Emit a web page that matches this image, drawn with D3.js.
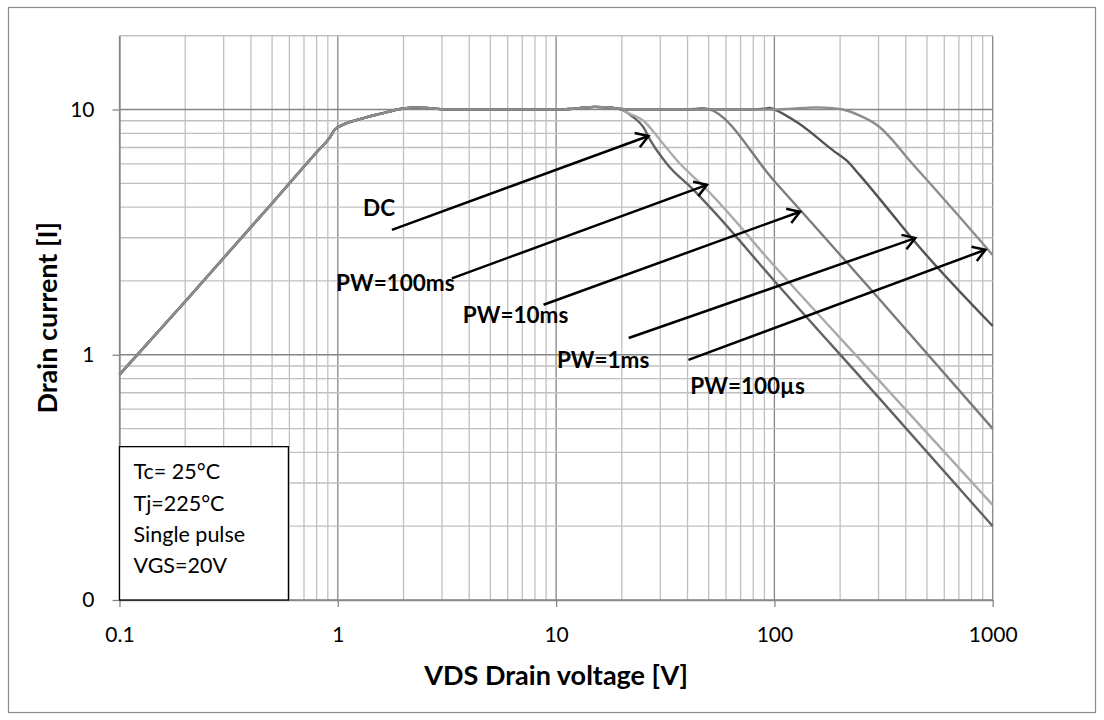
<!DOCTYPE html>
<html>
<head>
<meta charset="utf-8">
<script src="https://cdn.jsdelivr.net/npm/d3@7"></script>
<style>
  html, body { margin: 0; padding: 0; background: #fff; }
  svg { display: block; font-family: Lato, "Open Sans", sans-serif; }
</style>
</head>
<body>
<div id="chart"></div>
<script>
// [VDS (V), ID (A)]
const commonPoints = [[0.1, 0.83], [0.2, 1.65], [0.5, 4.15], [0.8, 6.7], [0.92, 7.7], [0.97, 8.3],
  [1.3, 9.2], [1.56, 9.6], [2.0, 10.1], [2.3, 10.2], [2.7, 10.1], [3.2, 10.0], [10, 10.0],
  [11.5, 10.05], [13, 10.15], [15, 10.25], [17.5, 10.2], [19.6, 10.05]];
const dcTail = [[22.6, 9.3], [25.1, 8.47], [27, 7.5], [32.2, 6.0], [42.6, 4.7], [52.6, 3.85],
  [100, 2.0], [300, 0.67], [1000, 0.2]];
const pw100msTail = [[21.8, 9.6], [25.1, 9.0], [30, 7.5], [35.8, 6.2], [44.2, 5.15], [49.1, 4.7],
  [100, 2.3], [300, 0.79], [1000, 0.244]];
const pw10msTail = [[24, 10], [40, 10], [44, 10.08], [47, 10.12], [50, 10.03], [100, 5.1],
  [300, 1.7], [1000, 0.5]];
const pw1msTail = [[24, 10], [80, 10], [90, 10.08], [95, 10.15], [100, 10.0], [130, 8.75],
  [186, 6.8], [214, 6.2], [246, 5.4], [326, 4.0], [431, 2.95], [1000, 1.31]];
const pw100usTail = [[24, 10], [100, 10], [120, 10.08], [155, 10.2], [185, 10.12], [205, 10.0],
  [246, 9.45], [304, 8.47], [350, 7.45], [403, 6.4], [533, 4.84], [760, 3.38], [1000, 2.55]];

const seriesNames = ["DC", "PW=100ms", "PW=10ms", "PW=1ms", "PW=100µs"];
const seriesColors = ["#636363", "#ababab", "#7b7b7b", "#545454", "#8d8d8d"];

// annotation arrows and labels
const arrowStarts = [[1.77, 3.23], [3.33, 2.05], [8.76, 1.6], [21.5, 1.17], [40.4, 0.953]];
const arrowEnds = [[26.5, 7.8], [49.1, 4.93], [131, 3.83], [442, 2.99], [926, 2.68]];
const labelPos = [[1.306, 3.68], [0.982, 1.82], [3.74, 1.344], [10.09, 0.881], [41.2, 0.692]];

const xTickValues = [0.1, 1, 10, 100, 1000];
const xTickLabels = ["0.1", "1", "10", "100", "1000"];
const yTickValues = [0.1, 1, 10];
const yTickLabels = ["0", "1", "10"];

const conditions = ["Tc= 25°C", "Tj=225°C", "Single pulse", "VGS=20V"];
const conditionsBox = [[0.1, 0.1], [0.594, 0.422]];

const width = 1104;
const height = 720;
const plot = { left: 119.5, top: 35.7, right: 992.7, bottom: 600 };

const svg = d3.select("#chart").append("svg")
  .attr("width", width)
  .attr("height", height);

svg.append("rect")
  .attr("x", 8.5).attr("y", 7.5)
  .attr("width", 1087).attr("height", 705)
  .attr("fill", "#fff")
  .attr("stroke", "#8c8c8c")
  .attr("stroke-width", 1.2);

const x = d3.scaleLog().domain([0.1, 1000]).range([plot.left, plot.right]);
const y = d3.scaleLog().domain([0.1, 20]).range([plot.bottom, plot.top]);

// grid
const grid = svg.append("g");
x.ticks().forEach((v) => {
  const major = xTickValues.includes(v);
  grid.append("line")
    .attr("x1", x(v)).attr("x2", x(v))
    .attr("y1", plot.top).attr("y2", plot.bottom)
    .attr("stroke", major ? "#868686" : "#c0c0c0")
    .attr("stroke-width", 1.3);
});
y.ticks().concat([20]).forEach((v) => {
  const major = yTickValues.includes(v);
  grid.append("line")
    .attr("x1", plot.left).attr("x2", plot.right)
    .attr("y1", y(v)).attr("y2", y(v))
    .attr("stroke", major ? "#868686" : "#c0c0c0")
    .attr("stroke-width", 1.3);
});

// axes
const xAxis = svg.append("g")
  .attr("transform", "translate(0," + plot.bottom + ")")
  .call(d3.axisBottom(x).tickValues(xTickValues)
    .tickFormat((d, i) => xTickLabels[i])
    .tickSize(7).tickSizeOuter(0).tickPadding(20));
const yAxis = svg.append("g")
  .attr("transform", "translate(" + plot.left + ",0)")
  .call(d3.axisLeft(y).tickValues(yTickValues)
    .tickFormat((d, i) => yTickLabels[i])
    .tickSize(7).tickSizeOuter(0).tickPadding(18));

[xAxis, yAxis].forEach((ax) => {
  ax.select(".domain").attr("stroke", "#868686").attr("stroke-width", 1.3);
  ax.selectAll(".tick line").attr("stroke", "#868686").attr("stroke-width", 1.3);
  ax.selectAll(".tick text")
    .attr("fill", "#000")
    .style("font-size", "21px")
    .style("font-family", "Lato, 'Open Sans', sans-serif");
});

// curves
const line = d3.line()
  .x((d) => x(d[0]))
  .y((d) => y(d[1]))
  .curve(d3.curveMonotoneX);

const tails = [dcTail, pw100msTail, pw10msTail, pw1msTail, pw100usTail];
for (let i = 0; i < tails.length; i++) {
  svg.append("path")
    .datum(commonPoints.concat(tails[i]))
    .attr("fill", "none")
    .attr("stroke", seriesColors[i])
    .attr("stroke-width", 2.4)
    .attr("stroke-linejoin", "round")
    .attr("d", line);
}

// arrows
svg.append("defs").append("marker")
  .attr("id", "head")
  .attr("markerUnits", "userSpaceOnUse")
  .attr("markerWidth", 20).attr("markerHeight", 20)
  .attr("refX", 12).attr("refY", 7.6)
  .attr("orient", "auto")
  .style("overflow", "visible")
  .append("path")
  .attr("d", "M0,0 L12,7.6 L0,15.2")
  .attr("fill", "none")
  .attr("stroke", "#000")
  .attr("stroke-width", 2.5);

for (let i = 0; i < arrowStarts.length; i++) {
  svg.append("line")
    .attr("x1", x(arrowStarts[i][0])).attr("y1", y(arrowStarts[i][1]))
    .attr("x2", x(arrowEnds[i][0])).attr("y2", y(arrowEnds[i][1]))
    .attr("stroke", "#000")
    .attr("stroke-width", 2.5)
    .attr("marker-end", "url(#head)");

  svg.append("text")
    .attr("x", x(labelPos[i][0]))
    .attr("y", y(labelPos[i][1]))
    .attr("font-size", 22.5)
    .attr("font-weight", "bold")
    .attr("fill", "#000")
    .text(seriesNames[i]);
}

// test conditions box
const bx = x(conditionsBox[0][0]);
const by = y(conditionsBox[1][1]);
svg.append("rect")
  .attr("x", bx)
  .attr("y", by)
  .attr("width", x(conditionsBox[1][0]) - bx)
  .attr("height", y(conditionsBox[0][1]) - by)
  .attr("fill", "#fff")
  .attr("stroke", "#000")
  .attr("stroke-width", 1.3);
conditions.forEach((t, i) => {
  svg.append("text")
    .attr("x", bx + 14)
    .attr("y", by + 32.6 + i * 31.3)
    .attr("font-size", 21.5)
    .attr("fill", "#000")
    .text(t);
});

// axis titles
svg.append("text")
  .attr("x", (plot.left + plot.right) / 2)
  .attr("y", 685)
  .attr("text-anchor", "middle")
  .attr("font-size", 27)
  .attr("font-weight", "bold")
  .text("VDS Drain voltage [V]");

svg.append("text")
  .attr("transform", "translate(57," + (plot.top + plot.bottom) / 2 + ") rotate(-90)")
  .attr("text-anchor", "middle")
  .attr("font-size", 27)
  .attr("font-weight", "bold")
  .text("Drain current [I]");
</script>
</body>
</html>
